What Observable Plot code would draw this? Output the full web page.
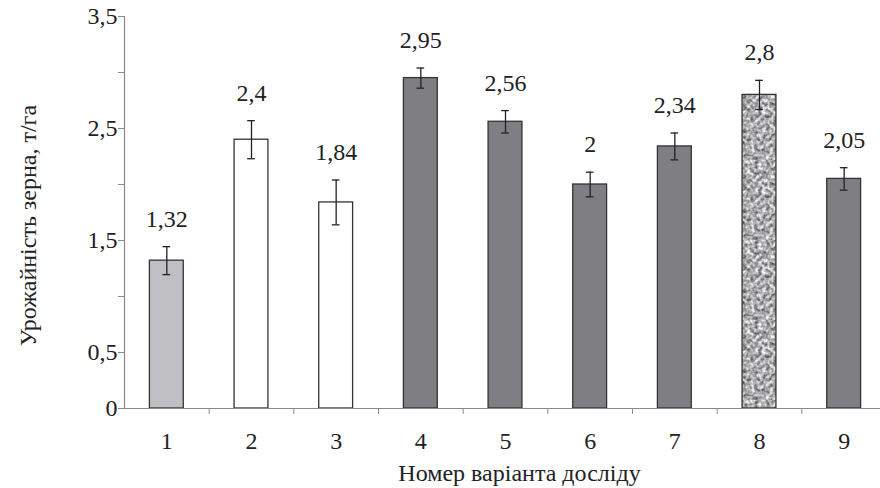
<!DOCTYPE html>
<html>
<head>
<meta charset="utf-8">
<script src="https://cdn.jsdelivr.net/npm/d3@7"></script>
<script src="https://cdn.jsdelivr.net/npm/@observablehq/plot@0.6"></script>
<style>
  html, body { margin: 0; padding: 0; background: #fff; }
  #chart svg { font-family: 'Liberation Serif', 'Times New Roman', serif !important; font-size: 23px !important; }
  #chart svg text { font-family: 'Liberation Serif', 'Times New Roman', serif !important; }
</style>
</head>
<body>
<div id="chart"></div>
<script>
const variants = [1, 2, 3, 4, 5, 6, 7, 8, 9];
const yields = [1.32, 2.4, 1.84, 2.95, 2.56, 2, 2.34, 2.8, 2.05];
const errors = [0.125, 0.17, 0.2, 0.09, 0.1, 0.11, 0.12, 0.13, 0.1];
const groups = ["control", "A", "A", "B", "B", "B", "B", "C", "B"];
const valueLabels = ["1,32", "2,4", "1,84", "2,95", "2,56", "2", "2,34", "2,8", "2,05"];
const yTicks = [0, 0.5, 1, 1.5, 2, 2.5, 3, 3.5];
const yTickLabels = ["0", "0,5", "", "1,5", "", "2,5", "", "3,5"];
const xTitle = "Номер варіанта досліду";
const yTitle = "Урожайність зерна, т/га";

const groupFill = {control: "#c0c0c4", A: "#ffffff", B: "#7f7f83", C: "url(#speckle)"};

const data = variants.map((v, i) => ({
  v, y: yields[i], e: errors[i], fill: groupFill[groups[i]], label: valueLabels[i]
}));
const boundaries = variants.slice(0, -1).map(v => v + 0.5);

const halfBar = 0.2;
const capHalf = 0.045;

const plot = Plot.plot({
  width: 880,
  height: 488,
  marginLeft: 124,
  marginRight: -6,
  marginTop: 16,
  marginBottom: 80,
  x: {domain: [0.5, 9.5], label: null},
  y: {domain: [0, 3.5], label: null},
  color: {type: "identity"},
  style: "font-family: 'Liberation Serif', 'Times New Roman', serif; font-size: 23px; color: #222; background: #fff;",
  marks: [
    Plot.rectY(data, {x1: d => d.v - halfBar, x2: d => d.v + halfBar, y1: 0, y2: "y", fill: "fill", stroke: "#333", strokeWidth: 1.3}),
    Plot.ruleX(data, {x: "v", y1: d => d.y - d.e, y2: d => d.y + d.e, stroke: "#222", strokeWidth: 1.3}),
    Plot.ruleY(data, {y: d => d.y + d.e, x1: d => d.v - capHalf, x2: d => d.v + capHalf, stroke: "#222", strokeWidth: 1.3}),
    Plot.ruleY(data, {y: d => d.y - d.e, x1: d => d.v - capHalf, x2: d => d.v + capHalf, stroke: "#222", strokeWidth: 1.3}),
    Plot.text(data, {x: "v", y: d => d.y + d.e, text: "label", dy: -20, lineAnchor: "bottom", fill: "#222", fontSize: 24}),
    Plot.ruleY([0], {stroke: "#8a8a8a", strokeWidth: 1.2}),
    Plot.ruleX([0.5], {y1: 0, y2: 3.5, stroke: "#8a8a8a", strokeWidth: 1.2}),
    Plot.axisY(yTicks, {tickSize: 6, tickPadding: 1, stroke: "#8a8a8a", fill: "#222", fontSize: 24, tickFormat: d => yTickLabels[yTicks.indexOf(d)], label: null}),
    Plot.axisX(boundaries, {tickSize: 6, tickFormat: () => "", stroke: "#8a8a8a", label: null}),
    Plot.axisX(variants, {tickSize: 0, tickPadding: 23, fill: "#222", fontSize: 24, tickFormat: d => String(d), label: null}),
    Plot.text([xTitle], {frameAnchor: "bottom", textAnchor: "middle", dy: 72, dx: 14, fontSize: 24, fill: "#222", lineAnchor: "bottom"}),
    Plot.text([yTitle], {frameAnchor: "left", textAnchor: "middle", dx: -96, dy: 13, rotate: -90, fontSize: 24, fill: "#222"})
  ]
});

const ns = "http://www.w3.org/2000/svg";
const defs = document.createElementNS(ns, "defs");
defs.innerHTML = `
  <filter id="noiseF" x="0" y="0" width="100%" height="100%" filterUnits="userSpaceOnUse" color-interpolation-filters="sRGB">
    <feTurbulence type="fractalNoise" baseFrequency="0.26" numOctaves="2" seed="7" result="n"/>
    <feColorMatrix type="matrix" values="1.15 0 0 0 0.1  1.15 0 0 0 0.1  1.15 0 0 0 0.11  0 0 0 0 1"/>
  </filter>
  <pattern id="speckle" patternUnits="userSpaceOnUse" width="80" height="80">
    <rect width="80" height="80" fill="#aaa" filter="url(#noiseF)"/>
  </pattern>`;
plot.insertBefore(defs, plot.firstChild);
document.getElementById("chart").appendChild(plot);
</script>
</body>
</html>
